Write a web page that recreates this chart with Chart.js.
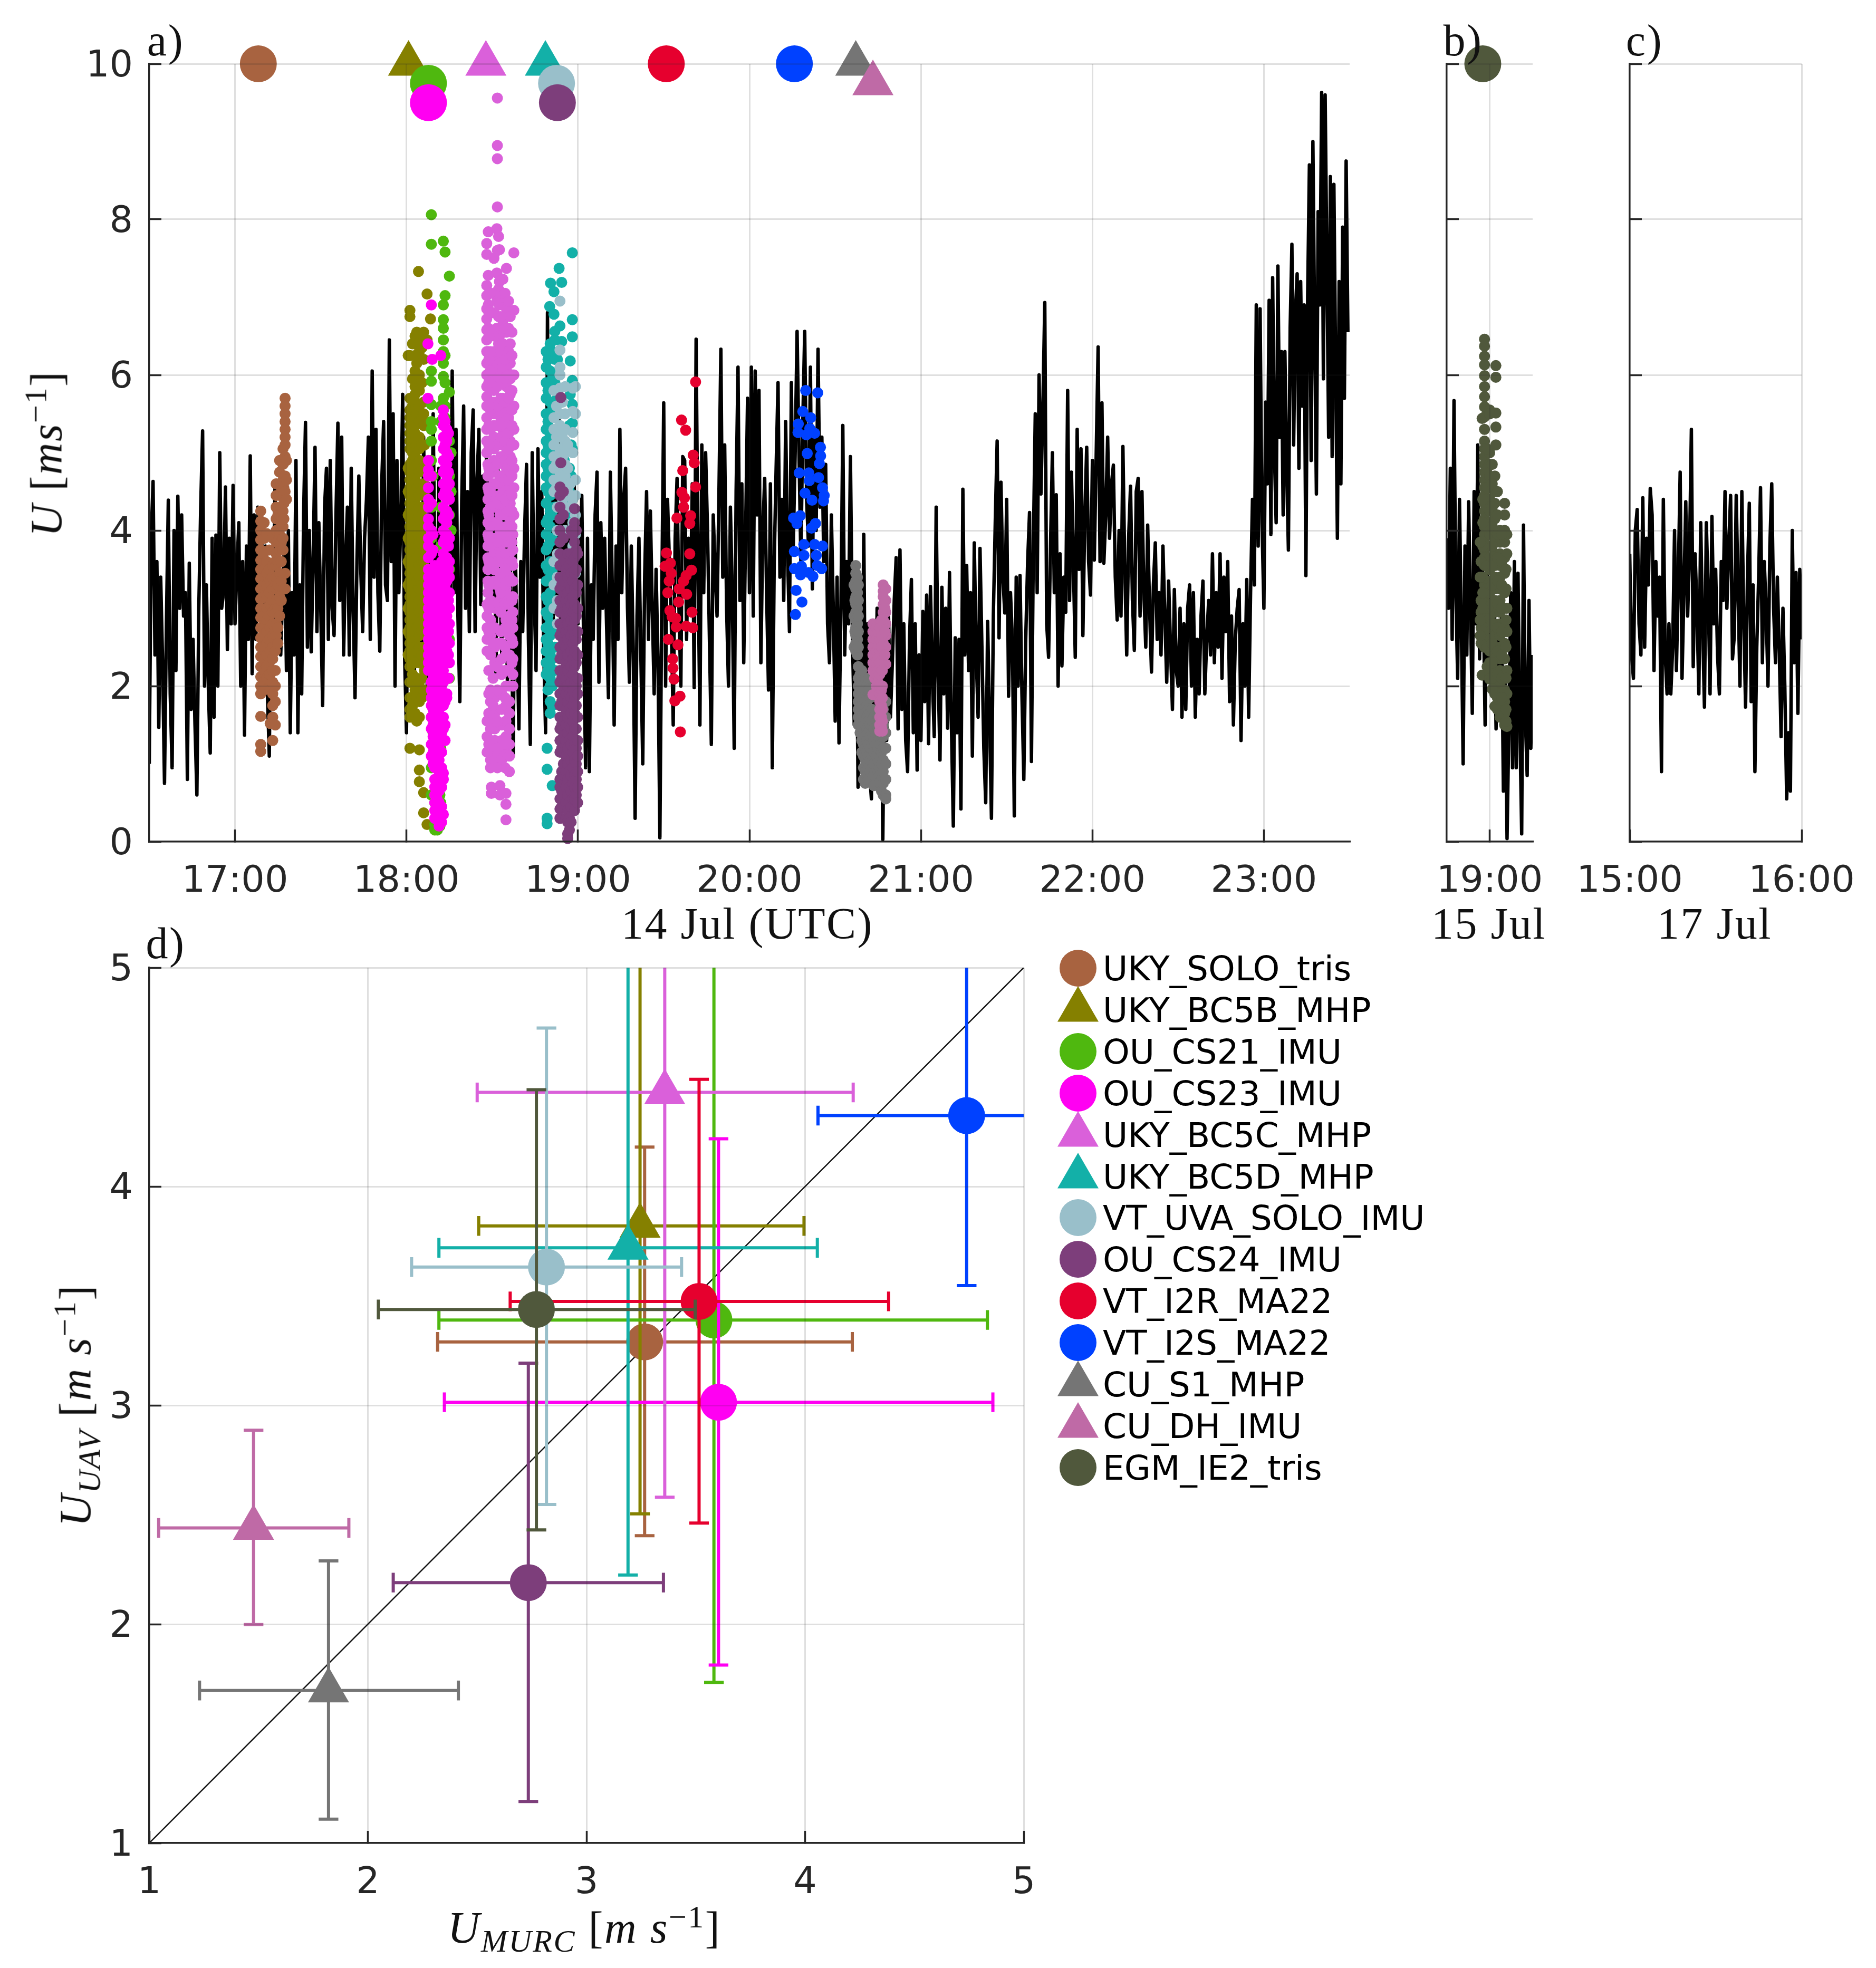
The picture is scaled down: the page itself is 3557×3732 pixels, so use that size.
<!DOCTYPE html>
<html>
<head>
<meta charset="utf-8">
<title>UAV and MURC wind speed</title>
<script src="https://cdn.jsdelivr.net/npm/chart.js@4"></script>
<style>
  html, body { margin: 0; padding: 0; background: #fff; }
  #page { position: relative; width: 3557px; height: 3732px; overflow: hidden; }
  canvas { position: absolute; }
  .lbl { position: absolute; transform: translate(-50%, -50%); white-space: nowrap; color: #111; font-family: "Liberation Serif", serif; font-size: 84px; letter-spacing: 0.03em; }
  .lbl i { font-style: italic; }
  .lbl sub, .lbl sup { font-size: 60px; line-height: 0; }
  .rot { transform: translate(-50%, -50%) rotate(-90deg); }
  .leg { position: absolute; left: 2091px; transform: translateY(-50%); font: 64.6px "DejaVu Sans", sans-serif; color: #000; white-space: nowrap; }
  .legm { position: absolute; left: 2000px; width: 88px; height: 100px; transform: translateY(-50%); }
</style>
</head>
<body>
<div id="page"></div>
<script>
// sensor names, in legend order
const names = ["UKY_SOLO_tris", "UKY_BC5B_MHP", "OU_CS21_IMU", "OU_CS23_IMU", "UKY_BC5C_MHP", "UKY_BC5D_MHP", "VT_UVA_SOLO_IMU", "OU_CS24_IMU", "VT_I2R_MA22", "VT_I2S_MA22", "CU_S1_MHP", "CU_DH_IMU", "EGM_IE2_tris"];
const colors = ["#a86340", "#858000", "#4fb80f", "#ff00f2", "#da60da", "#13b0a8", "#99bfca", "#7d3e7b", "#e6002e", "#0041ff", "#757575", "#bf6aa6", "#50583c"];
const shapes = ["circle", "triangle", "circle", "circle", "triangle", "triangle", "circle", "circle", "circle", "circle", "triangle", "triangle", "circle"];

// header markers of panels a and b (hour, U)
const headHour = [17.136, 18.012, 18.128, 18.128, 18.463, 18.81, 18.875, 18.88, 19.515, 20.262, 20.62, 20.72, 18.96];
const headU = [10, 10, 9.75, 9.5, 10, 10, 9.75, 9.5, 10, 10, 10, 9.75, 10];

// panel d: means and error limits
const murcMean = [3.266, 3.245, 3.583, 3.604, 3.358, 3.19, 2.817, 2.734, 3.515, 4.739, 1.82, 1.477, 2.771];
const murcLow = [2.319, 2.507, 2.325, 2.35, 2.5, 2.325, 2.2, 2.116, 2.651, 4.059, 1.23, 1.043, 2.048];
const murcHigh = [4.216, 3.995, 4.834, 4.859, 4.22, 4.056, 3.435, 3.352, 4.382, 5.4, 2.414, 1.913, 3.497];
const uavMean = [3.29, 3.82, 3.39, 3.014, 4.43, 3.72, 3.632, 2.19, 3.475, 4.324, 1.697, 2.44, 3.438];
const uavLow = [2.404, 2.504, 1.734, 1.813, 2.58, 2.225, 2.547, 1.19, 2.462, 3.547, 1.109, 1.998, 2.431];
const uavHigh = [4.18, 5.3, 5.3, 4.218, 5.3, 5.3, 4.724, 3.193, 4.49, 5.3, 2.289, 2.886, 4.442];

// ticks
const yTicksU = [0, 2, 4, 6, 8, 10];
const xTicksA = [17, 18, 19, 20, 21, 22, 23];
const xTicksB = [19];
const xTicksC = [15, 16];
const ticksD = [1, 2, 3, 4, 5];

// MURC time series, one list per half hour from 16:30 on 14 Jul
const murcStart = [16.5, 17, 17.5, 18, 18.5, 19, 19.5, 20, 20.5, 21, 21.5, 22, 22.5, 23];
const murcU = [
  [1,3.9,4.63,2.4,3.6,1.47,3.4,2.3,.75,2.8,4.39,1.9,.95,4,2.2,4.44,3,4.2,2.9,3.2,.8,3.58,1.7,2.6,1.5,.6,3,4.3,5.28,2,3.3,2,1.14,3.9,1.6,3.94,2,5,3,3.2,4.56,2.47,3.9,2.8,4.58],
  [2.8,3.5,4.1,2,3.6,1.37,3.8,2.6,4.96,2.16,4.2,2.6,4.3,3,4,2.5,3.8,1.9,1.1,3.4,2.8,4.58,3,3.6,2.4,3.2,3.9,2.2,4,1.4,3.2,2.4,4.9,1.4,3.3,1.9,4.2,5.39,2.5,4,2.44,3.6,5.07,2.7,4.1],
  [3,1.75,4.3,4.8,2.6,4.9,3,2.65,4.2,5.38,3.1,5.2,2.4,3.6,4.3,2.4,4.8,3,1.85,3.6,4.7,3.5,2.7,3.9,4.4,5.2,2.6,6.05,3.4,5.3,3.2,2.45,4.6,5.4,3.3,3.1,6.45,3.6,5.5,2,4.9,3.2,4.1,5.75,2.4],
  [1.4,4.2,2.5,3.6,1.6,5,2.8,4,2,5.2,3,1.9,4.6,2.4,5.5,3.3,2.2,4.8,1.7,3.8,5.6,2.6,4.2,3.1,6.05,3.2,5.3,2.9,1.8,4.4,5.6,3,4.5,2.7,5,5.55,2.7,4.6,5.3,3.05,4.7,3.4,5,2.9,4.8],
  [3,4.6,2.1,4.8,3.4,2.4,5,3.6,2,4.2,3,1.1,3.9,2.6,1.45,3.6,2.7,4,4.85,2.6,1.25,5,3.2,2.2,5.05,3.4,4.5,2.5,1.4,6.8,3.2,5.2,2.8,4.6,3,5.5,2.6,4.4,3.2,5,2.4,4.2,3,4.7,2.8],
  [2.8,3.6,4.45,2.5,.95,3.9,.9,3.3,2.6,4.2,4.75,2.05,4.1,3,3.9,2.8,1.85,4.75,3.3,1.5,3.8,2.6,5.3,3.2,4.4,4.8,3,2.05,3.8,2.5,.3,2.9,3.9,2.4,1,3.4,4.5,2.6,4.25,3,1.9,3.5,2.3,.05,3.2],
  [5.64,2,4.4,3.6,2.8,1.5,3.9,4.67,3,2,4.95,4.9,2.6,3.9,3,4.6,1.98,6.46,3.6,1.5,5.1,3.2,5,4,2.6,1.25,4.2,3.5,2.9,4.5,6.33,3.4,5.1,3,2,4.3,3.2,1.2,4.5,6.1,3.1,4.6,2.3,4,5.7],
  [3.2,6.1,2.9,6.05,4.2,5.8,2.3,4,4.67,3.2,1.95,4.6,.95,3.6,4.8,5.9,3.4,4.4,3.1,5.4,3.7,2.7,5.9,3.8,5,6.56,5,3.6,5.4,6.56,4.4,3.8,6.1,3.25,5.3,4,6.33,4.3,5.2,3.6,4.85,2.8,2.3,4.2,3],
  [1.55,3.4,1.27,3,5.35,2.4,3.6,2.8,4.95,2.7,1.5,3.3,.7,2.6,1.4,3.95,1.1,2.8,.9,.55,2.7,1.2,3,.8,2.6,.03,2.4,1.3,2.9,1.6,2.3,3.1,3.65,1.45,3.75,1.7,2.8,1.3,.9,2.6,3.37,1.4,2.8,.92,2.4],
  [1.3,2.96,1.8,3.17,1.26,3.28,2.1,1.35,4.3,2.2,1.05,3.27,1.9,3,1.46,3.46,1.5,.2,2.62,1.4,2.6,.42,4.53,2.4,3.55,2.2,3.2,1.1,3.84,2.4,1.6,3.77,2.5,1.2,.5,2.83,1.6,.3,2.9,4.1,5.15,2.62,4.62,3.4,2.94],
  [4.4,1.87,3.2,2.6,.33,3.4,2,3.42,1.9,.8,2.6,3.6,4.23,1.03,3.8,5.5,3.2,6,4.47,5.6,6.93,2.8,2.37,3.8,5,3.2,4.46,2,3.7,2.26,3.4,2.95,5.8,3.1,4.75,3.6,2.37,5.3,3.5,5.05,2.65,4.2,5.07,3.6,3.17],
  [4.9,3.62,5,6.36,3.6,5.64,3.58,4.2,5.2,3.9,4.6,4.84,3.4,2.85,4,2.9,5.08,3.5,2.4,3.9,4.57,3.1,2.46,4.5,4.67,2.9,4.5,3.2,2.5,4.07,3,2.18,3.3,3.84,2.6,3.2,2.4,3.8,2.9,2.05,3.35,2.5,1.7,3.24,2.2],
  [2,3,1.6,2.8,1.7,3,3.3,2,3.2,1.6,2.6,1.9,2.9,3.35,1.9,2.6,3.1,2.4,3.7,2.3,3.2,2.5,3.7,2.1,3.4,2.7,3.6,1.8,2.9,1.5,2.6,3,3.24,1.3,2.8,2,3.37,1.6,3.2,4.4,3.3,6.9,3.8,6.85,4.1],
  [3,5.65,4.6,6.96,3.95,7.25,5,4.1,7.4,5.2,6.3,4.2,6.3,4.8,3.75,6.6,7.68,5.1,6.8,7.3,4.8,7.2,5.6,6.9,3.42,7,8.7,4.9,9,6.6,4.47,8.1,6.9,9.63,5.95,9.6,7.4,5.2,8.55,4.95,8.45,6.1,3.9,7.2,4.6,7.9,5.7,8.75,6.55]
];
const murcU15Jul = [3.9,3,4.8,2.6,5.67,3.2,2.1,4.4,2.8,1,3.8,2.4,4.37,3,1.65,4.5,2.8,5.1,2.35,4,3.2,1.5,3.6,2.2,3.4,2,3,1.45,2.6,1.8,2.9,.65,2.2,.04,1.5,3.2,.95,3.6,.95,3.45,1.5,.1,4.07,1.6,.85,3.1,1.2,2.4];
const murcU17Jul = [3.7,2.4,2.1,4,4.27,2.8,2.4,4.42,2.5,3.9,3.3,4.54,4.2,2.2,3.6,2.9,3.4,.9,4.4,2.4,1.9,2.8,1.9,2.5,4,2.2,3.4,4.75,2.1,3.2,4.37,2.9,3.7,5.3,2.25,3.7,3,1.9,4.1,2.8,1.73,4.1,3.2,1.9,4.18,2.8,3.5,2.4,1.9,3.6,3.1,4.5,3,3.8,4.45,2.35,2.65,4.45,3.2,2,4.5,2.9,1.73,3.4,4.35,1.8,3.3,.9,2.5,3.4,4.55,2.3,3.6,3,2,3.8,4.6,3,2.3,3.4,2.5,1.35,3,2,.55,1.4,.65,4,2.3,3.46,1.65,3.5,2.6];

// UAV samples: each row is [hour, U, U, U ...]
const soloTris = [[17.15,4.25,4.12,4,3.88,3.75,3.62,3.5,3.38,3.25,3.12,3,2.88,2.75,2.62,2.5,2.38,2.25,2.12,2,1.9,1.61,1.25,1.16],[17.165,3.7,3.3,2.9,2.5,2.05],[17.17,4.1,3.9,3.5,3.15,2.75,2.35,2.2,1.95],[17.185,3.96,3.6,3.45,3.3,3.15,3,2.85,2.7,2.55,2.4,2.25,2.1],[17.2,3.75,3.5,3.2,2.9,2.6,2.3,2.15],[17.205,3.35,3.05,2.75,2.45,2.15,1.95,1.52],[17.22,3.9,3.55,3.4,3.25,3.1,2.95,2.8,2.65,2.5,2.35,2.2,2.05,1.9,1.75,1.6,1.3],[17.235,3.6,3.3,3,2.7,2.45,2.2,2,1.8,1.5],[17.24,4.6,4.45,4.3,4.15,4,3.85,3.7,3.55,3.4,3.25,3.1,2.95,2.8,2.65],[17.25,4.2,3.85,3.6,3.3,3,2.75,2.55],[17.26,4.9,4.75,4.45,4.2,3.95,3.75,3.45,3.15,2.9],[17.27,4.55,4.3,4.1,3.85,3.6,3.35,3.1],[17.28,5.05,4.85,4.65,4.45,4.25,4.05,3.9,3.75],[17.285,4.55,4.35,4.15],[17.292,5.7,5.6,5.5,5.4,5.3,5.2,5.1,4.95,4.7,4.5,3.45,3.25],[17.3,4.9,4.65,4.4]];
const bc5b = [[18.02,6.83,6.75,6.25,5.7,5.55,5.45,5.35,5.25,5.15,5.05,4.85,4.75,4.65,4.55,4.45,4.35,4.25,4.15,4.05,3.95,3.85,3.75,3.65,3.55,3.45,3.35,3.25,3.15,3.05,2.95,2.85,2.75,2.65,2.55,2.45,2.35,2.25,2.05,1.85,1.7,1.6,1.2],[18.035,6.4,5.95,5.6,5.3,5,4.9,4.65,4.4,4.15,3.9,3.65,3.4,3.15,2.9,2.65,2.4,2.15,1.75],[18.05,6.5,6.4,6.25,6.05,5.85,5.75,5.65,5.55,5.45,5.35,5.25,5.15,4.95,4.8,4.7,4.6,4.5,4.4,4.3,4.2,4.1,4,3.9,3.8,3.7,3.6,3.5,3.4,3.3,3.2,3.1,3,2.9,2.8,2.7,2.6,2.5,2.4,2.3,1.95,1.8,1.65],[18.06,6.55,6.15,5.95,5.5,5.1,4.85,4.55,4.25,3.95,3.65,3.35,3.05,2.75,2.45,2.1,1.85,1.55],[18.075,6.5,6.42,6.3,6,5.8,5.6,5.4,5.2,5.05,4.9,4.75,4.6,4.45,4.3,4.15,4,3.85,3.7,3.55,3.4,3.25,3.1,2.95,2.8,2.65,2.5,2.3,2.05,1.8,1.6,1.18,.92,.77],[18.09,6.35,5.9,5.45,5.1,4.8,4.5,4.2,3.9,3.6,3.3,3,2.7,2.4,2.1,1.85],[18.1,6.55,6.45,6.2,5.65,5.5,5.35,4.6,4.3,3.95,3.6,2.9,2.5,1.95,.63,.37],[18.105,5.1,4.8,4.45,4.1,3.75,3.45,3.15,2.75,2.2],[18.01,6.25,4.8,4.5,4.2,3.9,3.6,3.3,3,2.7,2.4],[18.07,7.33],[18.12,7.04,6.45,.22],[18.14,6.72]];
const cs21 = [[18.145,8.06,7.68,6.05,5.92,5.62,5.4,5.3,5.15,4.9,4.7,4.3,3.9,3.4,2.8,2.3,1.6,.95,.6],[18.215,7.72,6.9,6.71,6.6,6.45,6.3,6.15,5.98,5.7,5.55],[18.225,7.58,7.02,6.25,5.9,5.6,5.45],[18.25,7.27,5.78,5.15,4.7,4.2,3.5,2.6,2.1],[18.2,5.6,5.4,4.3,3.8,3.2,2.6,1.2,.8,.5],[18.165,.5,.22,.15],[18.18,.15,.17],[18.195,.6,.35,.2],[18.26,5,4.5,4],[18.155,4.7,3.3,2.2,1.4]];
const cs23 = [[18.145,6.9],[18.125,6.4,5.7],[18.15,6.2],[18.2,6.25],[18.128,4.9,4.78,4.7,4.55,4.4,4.3,4.15,4.05,3.9,3.8,3.65,3.5,3.4,3.3,3.2,3.1,3,2.9,2.8,2.7,2.6,2.5,2.4,2.3,2.2],[18.145,4.7,4.35,4,3.7,3.45,3.25,3.05,2.85,2.65,2.45,2.25,2.05,1.95,1.85,1.75,1.6,1.45,1.25,1.1],[18.155,3.95,3.75,3.5,3.3,3.1,2.9,2.7,2.5,2.3,2.1,1.9,1.7,1.5,1.35,1.15,1],[18.165,3.55,3.35,3.2,3,2.8,2.6,2.4,2.2,2,1.8,1.6,1.45,1.3,1.1,.95,.8,.7,.6,.5,.4,.3],[18.178,3.45,3.25,3.05,2.85,2.65,2.45,2.25,2.05,1.85,1.65,1.4,1.2,1,.75,.55,.35],[18.19,3.5,3.3,3.1,2.9,2.7,2.5,2.3,2.1,1.9,1.7,1.5,1.35,1.2,1.05,.85,.65,.5,.3,.2],[18.205,3.6,3.2,3,2.8,2.6,2.4,2.2,2,1.8,1.6,1.4,1.15,.95,.7,.45,.25],[18.215,5.55,5.45,5.35,5.2,5.05,4.9,4.75,4.6,4.45,4.3,4.15,4,3.85,3.7,3.55,3.4,3.25,3.1,2.95,2.8,2.65,2.5,2.35,2.2,2.05,1.9,1.75,1.6,1.45,1.3,.88,.8,.35],[18.225,5.4,5.1,4.8,4.5,4.2,3.9,3.6,3.3,3,2.7,2.4,2.1,1.8,1.5,1.3],[18.235,5.3,5.15,5,4.85,4.7,4.55,4.4,4.25,4.1,3.95,3.8,3.65,3.5,3.35,3.2,3.05,2.9,2.75,2.6,2.45,2.3,2.1,1.9,1.85],[18.245,5.25,4.95,4.75,4.45,4.2,3.8,3.5,3.1,2.7,2.4,2.1],[18.25,4.6,4.4,3.9,3.6,3.4,3.2,3,2.8,2.55,2.3]];
const bc5c = [[18.53,9.56,8.95,8.78,8.16,7.6],[18.477,7.84,7.28,6.9,6.6,6.3],[18.527,7.88,7.31,6.95,6.6,6.2],[18.537,7.78,7.1,6.75,6.4,6.05],[18.468,7.69,7.55,7.15,7.02,6.85,6.72,6.58,6.45,6.3,6.15,6,5.85,5.72,5.6,5.45,5.3,5.15,5],[18.542,7.61,7.2,6.9,6.5,6.15],[18.626,7.57,6.83,6,5.6,5.3,5.1,4.8,4.55,4.2],[18.51,7.5,7.05,6.8,6.5,6.3,6.1,5.95,5.8,5.65,5.5,5.35,5.2,5.05,4.9],[18.583,7.37,6.85,6.55,6.25,6.05,5.85,5.6,5.4,5.2,5,4.8,4.6,4.4,4.2],[18.562,7.23,7,6.7,6.4,6.1,5.9,5.7,5.5,5.3,5.1,4.9,4.7,4.5,4.3],[18.605,6.75,6.4,6.15,5.95,5.75,5.55,5.35,5.15,4.95,4.75,4.55,4.35,4.15,3.95],[18.475,4.85,4.7,4.55,4.4,4.25,4.1,3.95,3.8,3.65,3.5,3.35,3.2],[18.51,4.75,4.6,4.45,4.3,4.1,3.9,3.7,3.5,3.35],[18.545,4.65,4.45,4.2,4,3.8,3.6,3.4,3.25,3.1],[18.58,4.05,3.85,3.65,3.45,3.25,3.05,2.85],[18.62,3.95,3.75,3.55,3.35,3.15,2.95,2.75,2.55,2.35,2.15,2],[18.6,3.7,3.4,3.15,2.9,2.65,2.4,2.2,2],[18.47,3.05,2.9,2.75,2.6,2.45],[18.49,3.1,2.85,2.65,2.4,1.95,1.8,1.6,1.45,1.3,1.2,1.05,.95],[18.515,3,2.75,2.5,2.3,1.85,1.65,1.45,1.3,1.15,1.05],[18.555,2.55,2.35,2.15,1.9,1.7,1.5,1.3,1.15,1.05],[18.58,2.4,2.2,2,1.75,1.55,1.35,1.15,.62,.48,.28],[18.6,1.8,1.65,1.45,1.25,1.1,.9],[18.495,.7,.62],[18.545,.72,.6],[18.47,1.55,1.35,1.15],[18.49,7.05,6.8,6.55,6.3,6.05,5.8,5.55,5.3,5.05,4.8,4.55,4.3,4.05,3.8,3.55,3.3],[18.53,5.85,5.6,5.35,5.1,4.85,4.6,4.35,4.1,3.85,3.6,3.3,3.05],[18.55,7.05,6.75,6.3,5.95,5.7,5.45,5.2,4.95,4.7,4.45,4.2,3.95,3.7,3.45,3.2,2.95,2.7],[18.575,7.05,6.6,6.2,5.95,5.65,5.4,5.15,4.9,4.65,4.4,4.2,3.95,3.7,3.5,3.3,3.05,2.75,2.5],[18.595,6.95,6.6,6.3,6,5.7,5.45,5.25,5.05,4.85,4.65,4.45,4.25,4.05,3.85,3.6,3.35,3.05],[18.615,6.55,6.25,6,5.8,5.55,5.35,5.1,4.9,4.7,4.45,4.25,4.05,3.85,3.6,3.35,3.1,2.85,2.6,2.3],[18.48,6.8,6.5,6.2,5.9,5.6,5.35,5.1,4.8,4.5,4.2,3.9,3.6,3.3,3,2.7,2.2,1.9,1.65,1.25],[18.505,2.75,2.55,2.1,1.75,1.55,1.25],[18.575,2.2,1.85,1.25,.95],[18.53,2.55,2.25,1.95,1.55,1.2,.95]];
const bc5d = [[18.967,7.57,6.71,6.49,5.93,5.62,5.38,5.05],[18.89,7.37],[18.84,7.18],[18.905,7.19,6.43],[18.86,7.07,6.78],[18.835,6.88],[18.895,6.63],[18.865,6.56],[18.955,6.18,5.75],[18.815,6.3,6.1,5.9,5.7,5.5,5.3,5.15,5,4.85,4.7,4.55,4.35,4.1,3.95,3.75,3.55,3.35,3.15,2.95,2.75,2.6,2.45,2.3,2.15],[18.825,6.2,5.8,5.4,5.1,4.8,4.5,4.15,3.8,3.5,3.1,2.9,2.55,2.2,1.95],[18.838,6.4,6.25,6.05,5.85,5.65,5.45,5.25,5.05,4.9,4.75,4.6,4.45,4.25,4.05,3.85,3.6,3.4,3.2,3,2.8,2.65,2.4,2.25,2.1,2,1.8,1.65],[18.85,6.3,5.95,5.55,5.15,4.85,4.55,4.2,3.9,3.5,3.1,2.7,2.35,2,1.75,.72],[18.865,6.45,6.2,5.9,5.6,5.3,5.05,4.8,4.5,4.3,2.5,2.2],[18.88,6.2,5.7,5.2,4.7],[18.82,1.2,.93,.3,.23],[18.95,5.35,4.8,4.5],[18.96,5.1,4.7,4.4,4.2],[18.92,4.9,4.6,2.6,2],[18.98,.6]];
const uvaSolo = [[18.895,6.95,6.32,6.1,6,5.83,5.5,5.35,5.2,5.05,4.9,4.75,4.6],[18.86,5.8,5.45,5.3,5.1,4.95,4.8,4.65,4.5,3.6,3.3,3],[18.875,5.6,5.2,4.85,4.55],[18.91,5.65,5.25,4.95,4.65,4.4],[18.925,5.85,5.5,5.3,5.15,5,4.85,4.7,4.5,4.3,4],[18.94,5.1,4.8,4.5],[18.97,5.83,5.53,5.26,5,4.4,4.1,3.8,3.5,3.2],[18.985,5.85,5.5,4.65,4.45,4.2,3.95,3.7,3.45,3.2],[18.955,4.6,4.3,4,3.7,3.4],[18.88,4.3,4,3.7,3.4,3.1,2.8]];
const cs24 = [[18.9,5.71,4.87],[18.895,4.56,4.45,4.3,4.15,4,3.85,3.7,3.55,3.4,3.25,3.1,2.95,2.8,2.65,2.5,2.35,2.2,2.05,1.9,1.75,1.6,1.45,1.3,1.15,.8,.7,.55,.42,.3],[18.905,3.3,3,2.7,2.4,2.1,1.8,1.5,1.2,.9,.65,.45],[18.915,4.5,4.2,3.9,3.6,3.35,3.15,2.95,2.75,2.55,2.35,2.15,1.95,1.75,1.55,1.35,1.15,1,.85,.6],[18.93,3.5,3.1,2.9,2.7,2.5,2.3,2.1,1.9,1.7,1.5,1.3,1.1,.9,.7,.5,.3],[18.94,3.7,3.4,3.2,3,2.8,2.6,2.4,2.2,2,1.8,1.6,1.4,1.2,1,.8,.6,.4,.25,.1,.04],[18.95,3.55,3.3,3.1,2.9,2.7,2.5,2.3,2.1,1.9,1.7,1.5,1.3,1.1,.9,.7,.5,.3,.15],[18.96,4,3.7,3.45,3.25,3.05,2.85,2.65,2.45,2.25,2.05,1.85,1.65,1.45,1.25,1.05,.85,.65,.45,.25],[18.97,3.95,3.6,3.35,3.15,2.95,2.75,2.55,2.35,2.15,1.95,1.75,1.55,1.35,1.15,.95,.75,.55],[18.98,4.28,4.1,3.85,3.65,3.45,3.25,3.05,2.85,2.65,2.45,2.25,2.05,1.85,1.65,1.45,1.25,1.05,.85,.7,.55,.4],[18.99,4,3.75,3.5,3.2,2.9,2.6,2.3,2,1.75,1.45,1.2,1,.8,.6],[18.998,3.7,3.3,3,2.7,2.4,2.1,1.9,1.6,1.3,1.1,.9,.7,.5]];
const i2r = [[19.686,5.91,4.56],[19.604,5.42],[19.628,5.29],[19.672,4.97],[19.678,4.87],[19.611,4.77],[19.606,4.49],[19.621,4.42],[19.616,4.3,3.35],[19.577,4.16],[19.657,4.19],[19.652,4.09,3.7],[19.516,3.71],[19.539,3.58],[19.508,3.54],[19.544,3.45],[19.662,3.49],[19.631,3.42,2.77],[19.532,3.35],[19.59,3.25],[19.524,3.2],[19.634,3.18],[19.587,3.08],[19.536,2.97],[19.665,2.95],[19.57,2.87],[19.549,2.89],[19.573,2.76],[19.669,2.75],[19.527,2.6],[19.583,2.53],[19.552,2.35],[19.554,2.23],[19.56,2.09],[19.595,1.87],[19.565,1.81],[19.597,1.41]];
const i2s = [[20.328,5.8],[20.398,5.77],[20.311,5.53],[20.357,5.45],[20.285,5.37],[20.283,5.26],[20.332,5.23],[20.352,5.31],[20.38,5.25,3.82],[20.414,5.07],[20.337,4.99],[20.415,4.96],[20.408,4.86],[20.29,4.74],[20.346,4.74],[20.349,4.64],[20.403,4.68],[20.426,4.55,3.8],[20.324,4.48],[20.436,4.45],[20.365,4.39],[20.432,4.38],[20.296,4.19],[20.257,4.16],[20.277,4.09],[20.385,4.09],[20.362,4.03],[20.317,3.82],[20.262,3.73,3.51],[20.318,3.68],[20.39,3.68],[20.395,3.55],[20.421,3.51],[20.303,3.54],[20.298,3.43],[20.344,3.46],[20.37,3.41],[20.272,3.23],[20.306,3.08],[20.268,2.92]];
const csS1 = [[20.61,3.3,2.9,2.5],[20.62,3.55,3.45,3.35,3.25,3.15,3.05,2.95,2.85,2.75,2.65,2.55,2.45],[20.615,3.1,2.7],[20.63,3.4,3.2,3,2.8,2.6,2.4],[20.635,3.3,3.1,2.9,2.7,2.5,2.25,2.1,2,1.9,1.8,1.7,1.6,1.5],[20.645,2.15,1.95,1.8,1.6,1.4],[20.655,2.2,2.05,1.9,1.75,1.6,1.45,1.3,1.15],[20.665,2,1.85,1.6,1.4,1.25,1.1,.95,.8],[20.675,2.1,1.95,1.8,1.65,1.5,1.35,1.2,1.05,.9,.75],[20.685,2,1.75,1.6,1.45,1.3,1.15,1,.85],[20.695,2.1,1.95,1.7,1.55,1.4,1.25,1.1,.95,.8],[20.705,1.85,1.65,1.5,1.35,1.2,1.05,.9],[20.715,1.9,1.7,1.55,1.4,1.25,1.1,.95,.8],[20.725,1.6,1.45,1.3,1.15,1,.85,.72],[20.74,1.4,1.25,1.1,1],[20.75,1.6,1.45,1.2,1.05,.9],[20.76,1.4,1.25,1.1,.95,.85,.75],[20.77,1.65,1.35,1.15,1,.8,.65],[20.78,1.7,1.5,1.35,1.2,1.05,.9,.75,.6],[20.795,1.8,1.6,1.4,1.2,1,.8,.6,.55]];
const cuDh = [[20.78,3.3,3.22,3.15,3.05,2.95,2.85,2.75,2.65,2.55],[20.795,3.25,3.1,2.95,2.8,2.65,2.5,2.28],[20.72,2.8,2.7,2.6,2.5,2.4,2.3,2.2,1.89],[20.73,2.7,2.5,2.3,2.1],[20.74,2.75,2.6,2.45,2.3,2.15,2],[20.75,2.7,2.5,2.35,2.2,2.05],[20.76,2.75,2.6,2.45,2.3,2.15,2,1.9,1.8,1.7,1.6,1.5,1.42],[20.77,2.85,2.65,2.5,2.2,1.95,1.75,1.6,1.47],[20.775,2.4,2.2,2,1.85,1.7,1.55,1.42],[20.79,3,2.7,2.4]];
const egm = [[18.97,6.46,6.37,6.24,6.13,5.99,5.85,5.72,5.59,5.46,5.3,5.15,5.05,4.95,4.85,4.75,4.65,4.55,4.45,4.35,4.25,4.15,4.05,3.95,3.85,3.75,3.65,3.55,3.3,3.2,3.1,3,2.9,2.8,2.7,2.6,2.5],[19.036,6.12,5.97,5.51,5.33,5.1],[18.956,5.44,2.14],[19,5.55,5.5,5,4.85,4.7,4.55,4.4,4.25,4.1,3.95,3.8,3.65,3.5,3.35,3.2,3.05,2.9,2.75,2.6,2.45,2.3,2.15,2.09],[18.95,3.6,3.1,2.95,2.75,2.55],[19.03,4.7,4.5,4.35,4.15,4,3.85,3.7,3.55,3.4,3.25,3.1,2.95,2.8,2.65,2.5,2.35,2.2,2.05,1.96,1.9,1.74],[19.06,4,3.85,3.7,3.55,3.4,3.25,3.1,2.95,2.8,2.65,2.5,2.35,2.2,2.05,1.9,1.8,1.7,1.6],[19.087,4.35,4.2,4,3.85,3.65,3.45,3.2,3,2.75,2.55,2.35,2.15,1.95,1.8,1.65,1.5],[19.1,3.95,3.7,3,2.7,2.2,1.9,1.48],[19.08,1.75,1.6],[18.985,5.05,4.8,4.55,4.3,4.05,3.8,3.55,3.25,3,2.75,2.5,2.25],[19.015,4.85,4.6,4.3,4.05,3.8,3.55,3.3,3.05,2.8,2.55,2.3,2.1,1.96],[19.045,4.5,4.2,3.95,3.65,3.35,3.05,2.75,2.45,2.15,1.85,1.7],[19.07,3.95,3.6,3.3,3,2.7,2.4,2.1,1.85,1.65],[18.96,4.4,4.1,3.8,3.4,3.2,3,2.7],[18.945,3.85,3.4,2.85,2.65],[19.095,3.5,3.25,2.85,2.5,2.1,1.7,1.55]];
const samples = [soloTris, bc5b, cs21, cs23, bc5c, bc5d, uvaSolo, cs24, i2r, i2s, csS1, cuDh, egm];

const ink = "#262626";
const gridInk = "rgba(38,38,38,0.15)";
const tickFont = { family: "'DejaVu Sans'", size: 70 };
const capHalf = 0.045;
const page = document.getElementById("page");

const toPoints = (rows) => rows.flatMap((r) => r.slice(1).map((u) => ({ x: r[0], y: u })));

// x axis and y axis share this, ticks point inward like the original
const axis = (min, max, tickList, extra) => ({
  type: "linear",
  min, max,
  grid: { color: gridInk, lineWidth: 3, tickColor: ink, tickLength: -23, tickWidth: 3.5, z: 1 },
  border: { color: ink, width: 3.5, z: 2 },
  ticks: { font: tickFont, color: ink, autoSkip: false, maxRotation: 0 },
  afterBuildTicks: (s) => { s.ticks = tickList.map((v) => ({ value: v })); },
  ...extra
});

const hourLabel = (v) => v + ":00";

const addChart = (box, datasets, xOpts, yOpts) => {
  const c = document.createElement("canvas");
  c.style.left = box.left + "px";
  c.style.top = box.top + "px";
  c.width = box.width;
  c.height = box.height;
  page.appendChild(c);
  return new Chart(c, {
    type: "scatter",
    data: { datasets },
    options: {
      responsive: false,
      animation: false,
      devicePixelRatio: 1,
      layout: { padding: { top: box.padTop, right: box.padRight, left: 0, bottom: 0 } },
      plugins: { legend: { display: false }, tooltip: { enabled: false } },
      scales: { x: xOpts, y: yOpts }
    }
  });
};

const murcLine = (points) => ({ data: points, showLine: true, borderColor: "#000", borderWidth: 6.5, borderJoinStyle: "round", pointRadius: 0, order: 1000 });
const dots = (i) => ({ data: toPoints(samples[i]), backgroundColor: colors[i], pointRadius: 10.5, pointBorderWidth: 0, clip: false, order: 500 - i * 2 });
const head = (i) => ({ data: [{ x: headHour[i], y: headU[i] }], backgroundColor: colors[i], pointStyle: shapes[i], pointRadius: shapes[i] === "circle" ? 35 : 45, pointBorderWidth: 0, clip: false, order: 499 - i * 2 });
const hourTicks = { font: tickFont, color: ink, autoSkip: false, maxRotation: 0, padding: 58, callback: hourLabel };
const valueTicks = { font: tickFont, color: ink, padding: 54, labelOffset: 6 };

// panel a
const seriesA = murcU.flatMap((vals, k) => vals.map((u, j) => ({ x: murcStart[k] + j * 0.5 / vals.length, y: u })));
const setA = [murcLine(seriesA)];
for (let i = 0; i < 12; i++) { setA.push(dots(i)); setA.push(head(i)); }
addChart({ left: 0, top: 0, width: 2680, height: 1740, padTop: 121, padRight: 121 }, setA,
  axis(16.5, 23.5, xTicksA, { afterFit: (s) => { s.height = 144; }, ticks: hourTicks }),
  axis(0, 10, yTicksU, { afterFit: (s) => { s.width = 283; }, ticks: valueTicks }));

// panel b
const seriesB = murcU15Jul.map((u, j) => ({ x: 18.75 + j * 0.5 / (murcU15Jul.length - 1), y: u }));
addChart({ left: 2543, top: 0, width: 563, height: 1740, padTop: 121, padRight: 200 }, [murcLine(seriesB), dots(12), head(12)],
  axis(18.75, 19.25, xTicksB, { afterFit: (s) => { s.height = 144; }, ticks: hourTicks }),
  axis(0, 10, yTicksU, { afterFit: (s) => { s.width = 200; }, ticks: { display: false } }));

// panel c
const seriesC = murcU17Jul.map((u, j) => ({ x: 15 + j / (murcU17Jul.length - 1), y: u }));
addChart({ left: 2890, top: 0, width: 726, height: 1740, padTop: 121, padRight: 200 }, [murcLine(seriesC)],
  axis(15, 16, xTicksC, { afterFit: (s) => { s.height = 144; }, ticks: hourTicks }),
  axis(0, 10, yTicksU, { afterFit: (s) => { s.width = 200; }, ticks: { display: false } }));

// panel d, error bars are broken line datasets
const gap = { x: NaN, y: NaN };
const setD = [{ data: [{ x: 1, y: 1 }, { x: 5, y: 5 }], showLine: true, borderColor: "#111", borderWidth: 2.5, pointRadius: 0, order: 800 }];
names.forEach((n, i) => {
  const mx = murcMean[i], my = uavMean[i];
  const bars = [
    { x: murcLow[i], y: my }, { x: murcHigh[i], y: my }, gap,
    { x: murcLow[i], y: my - capHalf }, { x: murcLow[i], y: my + capHalf }, gap,
    { x: murcHigh[i], y: my - capHalf }, { x: murcHigh[i], y: my + capHalf }, gap,
    { x: mx, y: uavLow[i] }, { x: mx, y: uavHigh[i] }, gap,
    { x: mx - capHalf, y: uavLow[i] }, { x: mx + capHalf, y: uavLow[i] }, gap,
    { x: mx - capHalf, y: uavHigh[i] }, { x: mx + capHalf, y: uavHigh[i] }
  ];
  setD.push({ data: bars, showLine: true, borderColor: colors[i], borderWidth: 6, pointRadius: 0, order: 500 - i * 2 });
  setD.push({ data: [{ x: mx, y: my }], backgroundColor: colors[i], pointStyle: shapes[i], pointRadius: shapes[i] === "circle" ? 35 : 45, pointBorderWidth: 0, clip: false, order: 499 - i * 2 });
});
addChart({ left: 0, top: 1705, width: 2091, height: 1940, padTop: 130, padRight: 150 }, setD,
  axis(1, 5, ticksD, { afterFit: (s) => { s.height = 150; }, ticks: { font: tickFont, color: ink, autoSkip: false, maxRotation: 0, padding: 58 } }),
  axis(1, 5, ticksD, { afterFit: (s) => { s.width = 283; }, ticks: valueTicks }));

// axis titles and panel letters
const addLabel = (html, x, y, cls) => {
  const d = document.createElement("div");
  d.className = "lbl" + (cls ? " " + cls : "");
  d.style.left = x + "px";
  d.style.top = y + "px";
  d.innerHTML = html;
  page.appendChild(d);
};
addLabel("a)", 314, 76);
addLabel("b)", 2774, 76);
addLabel("c)", 3118, 76);
addLabel("d)", 314, 1788);
addLabel("14 Jul (UTC)", 1417, 1751);
addLabel("15 Jul", 2823, 1751);
addLabel("17 Jul", 3251, 1751);
addLabel("<i>U</i> [<i>ms</i><sup>−1</sup>]", 88, 860, "rot");
addLabel("<i>U<sub>UAV</sub></i> [<i>m s</i><sup>−1</sup>]", 143, 2665, "rot");
addLabel("<i>U<sub>MURC</sub></i> [<i>m s</i><sup>−1</sup>]", 1108, 3655);

// legend, one row per sensor
names.forEach((n, i) => {
  const y = 1836 + i * 78.9;
  const m = document.createElementNS("http://www.w3.org/2000/svg", "svg");
  m.setAttribute("class", "legm");
  m.setAttribute("viewBox", "-44 -50 88 100");
  m.style.top = y + "px";
  m.innerHTML = shapes[i] === "circle"
    ? `<circle r="35" fill="${colors[i]}"/>`
    : `<polygon points="0,-45 39,22.5 -39,22.5" fill="${colors[i]}"/>`;
  page.appendChild(m);
  const t = document.createElement("div");
  t.className = "leg";
  t.style.top = y + "px";
  t.textContent = n;
  page.appendChild(t);
});
</script>
</body>
</html>
